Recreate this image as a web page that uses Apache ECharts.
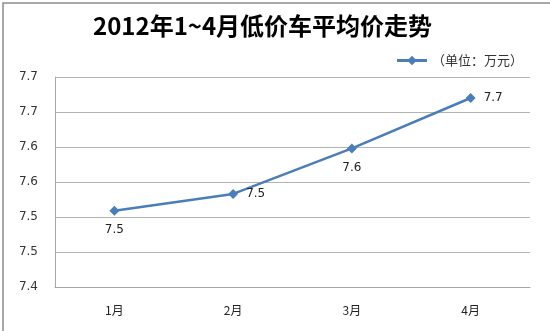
<!DOCTYPE html>
<html>
<head>
<meta charset="utf-8">
<script src="https://cdn.jsdelivr.net/npm/echarts@6/dist/echarts.min.js"></script>
<style>html,body{margin:0;padding:0;background:#fff}#c{width:550px;height:331px}</style>
</head>
<body>
<div id="c"></div>
<script>
const titleText = '2012年1~4月低价车平均价走势';
const seriesName = '（单位：万元）';
const categories = ['1月', '2月', '3月', '4月'];
const values = [7.509, 7.533, 7.598, 7.670];
const labelPositions = ['bottom', 'right', 'bottom', 'right'];
const yMin = 7.4, yMax = 7.7, yStep = 0.05;

function r1(v) { return (Math.round(v * 10 + 1e-9) / 10).toFixed(1); }

const chart = echarts.init(document.getElementById('c'));
chart.setOption({
  animation: false,
  backgroundColor: '#fff',
  graphic: [{
    type: 'rect', left: 0.5, top: 0.5,
    shape: { width: 548, height: 329 },
    style: { fill: 'none', stroke: '#8c8c8c', lineWidth: 1.5 }
  }],
  title: {
    text: titleText, left: 93, top: 14, padding: 0,
    textStyle: { fontFamily: 'Noto Sans CJK SC', fontSize: 24, fontWeight: 'bold', color: '#000' }
  },
  legend: {
    right: 22, top: 49, itemWidth: 30, itemHeight: 12, itemGap: 4,
    textStyle: { fontFamily: 'Noto Sans CJK SC', fontSize: 13, color: '#333' },
    lineStyle: { width: 3 },
    data: [{ name: seriesName }]
  },
  grid: { left: 55, right: 20, top: 77, bottom: 44 },
  xAxis: {
    type: 'category', data: categories, boundaryGap: true,
    axisLine: { lineStyle: { color: '#a6a6a6' } },
    axisTick: { show: false },
    axisLabel: { margin: 17, fontFamily: 'Noto Sans CJK SC', fontSize: 12, color: '#222' }
  },
  yAxis: {
    type: 'value', min: yMin, max: yMax, interval: yStep,
    axisLine: { show: true, lineStyle: { color: '#a6a6a6' } },
    axisTick: { show: false },
    splitLine: { lineStyle: { color: '#b3b3b3' } },
    axisLabel: { margin: 17, fontFamily: 'DejaVu Sans', fontSize: 12, color: '#333', formatter: r1 }
  },
  series: [{
    name: seriesName, type: 'line',
    data: values.map((v, i) => ({ value: v, label: { position: labelPositions[i] } })),
    symbol: 'diamond', symbolSize: 10,
    lineStyle: { color: '#4a7ebb', width: 2.5 },
    itemStyle: { color: '#4a7ebb' },
    label: { show: true, distance: 8, fontFamily: 'DejaVu Sans', fontSize: 12, color: '#222',
      formatter: p => r1(p.value) }
  }]
});
</script>
</body>
</html>
